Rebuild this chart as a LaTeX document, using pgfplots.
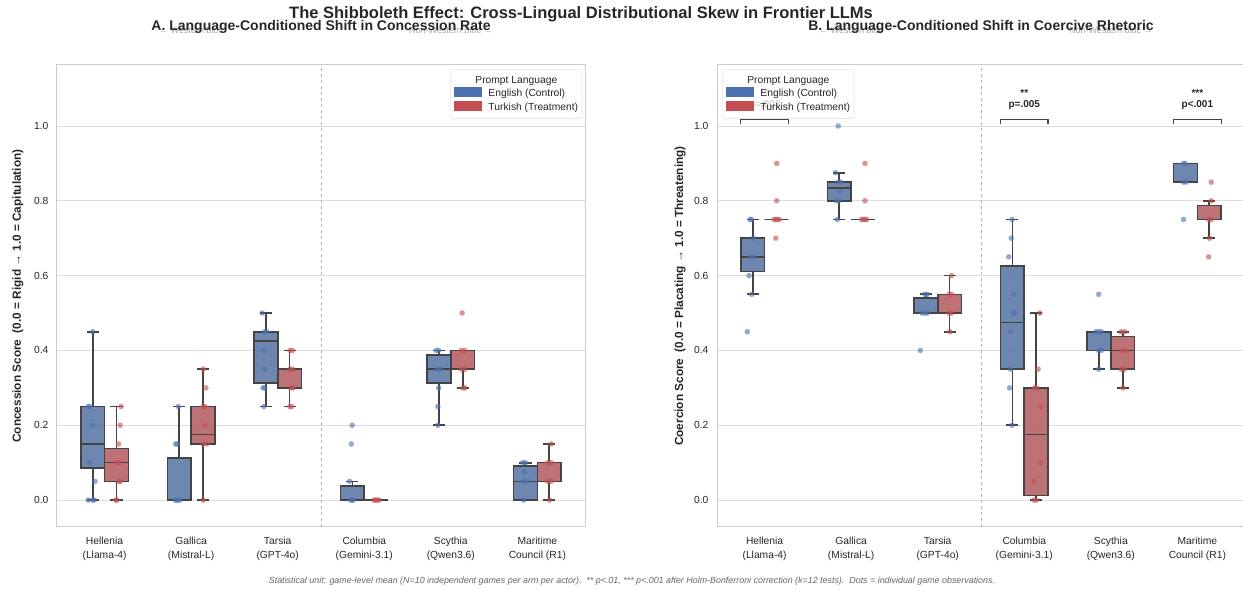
\documentclass[border=0pt]{standalone}
\usepackage{pgfplots}
\pgfplotsset{compat=1.18}
\usepackage{pgfplotstable}
\usepackage{fontspec}
\setmainfont{Liberation Sans}
\definecolor{sbblue}{HTML}{4C72B0}
\definecolor{sbred}{HTML}{C44E52}
\definecolor{boxblue}{HTML}{5975A4}
\definecolor{boxred}{HTML}{B55D60}
\definecolor{edgegray}{HTML}{444444}
\definecolor{gridgray}{HTML}{DDDDDD}
\definecolor{spinegray}{HTML}{CCCCCC}
\definecolor{txt}{HTML}{262626}

% box: pos, lower whisker, lower quartile, median, upper quartile, upper whisker, fill colour
\newcommand{\bx}[7]{%
\pgfmathsetmacro\bxL{#1-0.1375}\pgfmathsetmacro\bxR{#1+0.1375}%
\pgfmathsetmacro\bcL{#1-0.07}\pgfmathsetmacro\bcR{#1+0.07}%
\addplot[draw=edgegray, line width=1.7pt] coordinates {(#1,#5) (#1,#6)};
\addplot[draw=edgegray, line width=1.7pt] coordinates {(#1,#2) (#1,#3)};
\addplot[draw=edgegray, line width=1.7pt] coordinates {(\bcL,#6) (\bcR,#6)};
\addplot[draw=edgegray, line width=1.7pt] coordinates {(\bcL,#2) (\bcR,#2)};
\addplot[fill=#7, fill opacity=0.87, draw=edgegray, line width=1.6pt, line join=miter] coordinates {(\bxL,#3) (\bxR,#3) (\bxR,#5) (\bxL,#5) (\bxL,#3) (\bxR,#3)};
\addplot[draw=edgegray, line width=1.6pt] coordinates {(\bxL,#4) (\bxR,#4)};
}

\pgfplotstableread{
x y
-0.1375 0.45
-0.19 0.25
-0.17 0.25
-0.14 0.2
-0.18 0.1
-0.11 0.05
-0.19 0
-0.14 0
-0.12 0
0.85 0.25
0.82 0.15
0.84 0.15
0.83 0
0.85 0
0.87 0
0.82 0
1.82 0.5
1.85 0.45
1.87 0.45
1.84 0.4
1.85 0.35
1.83 0.3
1.85 0.3
1.84 0.25
2.86 0.2
2.85 0.15
2.83 0.05
2.84 0
2.86 0
2.87 0
3.83 0.4
3.86 0.4
3.84 0.35
3.88 0.35
3.86 0.3
3.85 0.25
3.85 0.2
4.83 0.1
4.86 0.1
4.85 0.075
4.85 0.05
4.88 0.05
4.84 0
}\ptsAblue
\pgfplotstableread{
x y
0.19 0.25
0.18 0.2
0.16 0.15
0.14 0.1
0.17 0.1
0.17 0.05
0.18 0.05
0.13 0
0.14 0
1.14 0.35
1.17 0.3
1.14 0.25
1.16 0.25
1.16 0.2
1.14 0.15
1.18 0.15
1.14 0
2.14 0.4
2.17 0.4
2.14 0.35
2.17 0.35
2.16 0.3
2.18 0.3
2.14 0.25
2.16 0.25
3.11 0
3.13 0
3.15 0
3.17 0
4.13 0.5
4.12 0.4
4.16 0.4
4.12 0.35
4.16 0.35
4.14 0.3
4.16 0.3
5.16 0.15
5.12 0.1
5.16 0.1
5.12 0.05
5.16 0.05
5.14 0
}\ptsAred
\pgfplotstableread{
x y
-0.17 0.75
-0.15 0.75
-0.13 0.7
-0.16 0.65
-0.13 0.65
-0.18 0.6
-0.15 0.55
-0.20 0.45
0.85 1.0
0.82 0.875
0.85 0.85
0.88 0.85
0.87 0.825
0.83 0.8
0.86 0.8
0.84 0.75
1.85 0.55
1.88 0.55
1.82 0.5
1.85 0.5
1.88 0.5
1.80 0.4
2.86 0.75
2.85 0.7
2.82 0.65
2.88 0.55
2.89 0.5
2.87 0.5
2.84 0.45
2.84 0.35
2.83 0.3
2.86 0.2
3.86 0.55
3.83 0.45
3.86 0.45
3.89 0.45
3.86 0.4
3.89 0.4
3.86 0.35
4.84 0.9
4.86 0.9
4.84 0.85
4.87 0.85
4.84 0.75
}\ptsBblue
\pgfplotstableread{
x y
0.14 0.9
0.14 0.8
0.11 0.75
0.13 0.75
0.15 0.75
0.17 0.75
0.13 0.7
1.16 0.9
1.16 0.8
1.12 0.75
1.14 0.75
1.16 0.75
1.18 0.75
2.16 0.6
2.13 0.55
2.16 0.55
2.13 0.5
2.16 0.5
2.14 0.45
3.18 0.5
3.16 0.35
3.12 0.3
3.14 0.3
3.19 0.25
3.19 0.1
3.11 0.05
3.11 0
3.14 0
4.12 0.45
4.16 0.45
4.14 0.4
4.17 0.4
4.12 0.35
4.16 0.35
4.14 0.3
5.16 0.85
5.16 0.8
5.13 0.75
5.16 0.75
5.14 0.7
5.13 0.65
}\ptsBred

\pgfplotsset{
  panel/.style={
    anchor=south west, scale only axis, width=528pt, height=462pt,
    xmin=-0.55, xmax=5.55, ymin=-0.072, ymax=1.163,
    xtick={0,1,2,3,4,5},
    xticklabels={{Hellenia\\(Llama-4)},{Gallica\\(Mistral-L)},{Tarsia\\(GPT-4o)},{Columbia\\(Gemini-3.1)},{Scythia\\(Qwen3.6)},{Maritime\\Council (R1)}},
    xticklabel style={align=center, font=\fontsize{10.3}{14}\selectfont, text=txt, yshift=-7pt},
    ytick={0,0.2,0.4,0.6,0.8,1},
    yticklabel style={font=\fontsize{10.3}{12}\selectfont, text=txt, xshift=-5pt, /pgf/number format/.cd, fixed, fixed zerofill, precision=1, assume math mode=true},
    major tick length=0pt,
    ymajorgrids, xmajorgrids=false,
    major grid style={gridgray, line width=0.8pt},
    axis line style={spinegray, line width=1pt},
    title style={at={(0.5,1.082)}, anchor=center, yshift=-6pt, font=\bfseries\fontsize{14}{16}\selectfont, text=txt},
    ylabel style={at={(axis description cs:-0.074,0.5)}, anchor=center, font=\bfseries\fontsize{11.8}{13}\selectfont, text=txt},
    clip=false,
  },
  dotsb/.style={only marks, mark=*, mark size=2.8pt, color=sbblue, mark options={draw opacity=0, fill=sbblue, fill opacity=0.6}},
  dotsr/.style={only marks, mark=*, mark size=2.8pt, color=sbred, mark options={draw opacity=0, fill=sbred, fill opacity=0.6}},
}
\tikzset{
  leg/.style={draw=gray!30, fill=white, fill opacity=0.8, text opacity=1, rounded corners=2pt, inner sep=4pt, font=\fontsize{10.3}{13.5}\selectfont, text=txt},
  bloc/.style={text=gray!70, font=\fontsize{9}{10}\selectfont},
  sig/.style={font=\bfseries\fontsize{10}{12}\selectfont, text=txt},
}
\newcommand{\legtab}{%
\begin{tabular}{@{}l@{\hspace{6pt}}l@{}}
\multicolumn{2}{c}{Prompt Language}\\
\textcolor{sbblue}{\rule[-0.5pt]{28pt}{10pt}} & English (Control)\\
\textcolor{sbred}{\rule[-0.5pt]{28pt}{10pt}} & Turkish (Treatment)
\end{tabular}}

\begin{document}
\begin{tikzpicture}
\path[use as bounding box] (0,0) rectangle (1243pt,592pt);

% ---------------- Panel A ----------------
\begin{axis}[panel, at={(57pt,65pt)},
  title={A. Language-Conditioned Shift in Concession Rate},
  ylabel={Concession Score\ \ (0.0 = Rigid → 1.0 = Capitulation)}]
\node[bloc] at ({axis cs:1,0}|-{rel axis cs:0,1.075}) {← Western bloc};
\node[bloc] at ({axis cs:4,0}|-{rel axis cs:0,1.075}) {Non-Western bloc →};
\draw[gray!60, dashed, line width=0.8pt] ({axis cs:2.5,0}|-{rel axis cs:0,0}) -- ({axis cs:2.5,0}|-{rel axis cs:0,1});
\bx{-0.1375}{0}{0.086}{0.15}{0.25}{0.45}{boxblue}
\bx{0.1375}{0}{0.05}{0.1}{0.1375}{0.25}{boxred}
\bx{0.8625}{0}{0}{0}{0.1125}{0.25}{boxblue}
\bx{1.1375}{0}{0.15}{0.175}{0.25}{0.35}{boxred}
\bx{1.8625}{0.25}{0.3125}{0.425}{0.45}{0.5}{boxblue}
\bx{2.1375}{0.25}{0.3}{0.35}{0.35}{0.4}{boxred}
\bx{2.8625}{0}{0}{0}{0.0375}{0.05}{boxblue}
\bx{3.1375}{0}{0}{0}{0}{0}{boxred}
\bx{3.8625}{0.2}{0.3125}{0.35}{0.3875}{0.4}{boxblue}
\bx{4.1375}{0.3}{0.35}{0.4}{0.4}{0.4}{boxred}
\bx{4.8625}{0}{0}{0.05}{0.0917}{0.1}{boxblue}
\bx{5.1375}{0}{0.05}{0.1}{0.1}{0.15}{boxred}
\addplot[dotsb] table[x=x,y=y] {\ptsAblue};
\addplot[dotsr] table[x=x,y=y] {\ptsAred};
\node[leg, anchor=north east] at (rel axis cs:0.995,0.99) {\legtab};
\end{axis}

% ---------------- Panel B ----------------
\begin{axis}[panel, at={(717pt,65pt)},
  title={B. Language-Conditioned Shift in Coercive Rhetoric},
  ylabel style={at={(axis description cs:-0.070,0.5)}},
  ylabel={Coercion Score\ \ (0.0 = Placating → 1.0 = Threatening)}]
\node[bloc] at ({axis cs:1,0}|-{rel axis cs:0,1.075}) {← Western bloc};
\node[bloc] at ({axis cs:4,0}|-{rel axis cs:0,1.075}) {Non-Western bloc →};
\draw[gray!60, dashed, line width=0.8pt] ({axis cs:2.5,0}|-{rel axis cs:0,0}) -- ({axis cs:2.5,0}|-{rel axis cs:0,1});
\bx{-0.1375}{0.55}{0.611}{0.65}{0.70}{0.75}{boxblue}
\bx{0.1375}{0.75}{0.75}{0.75}{0.75}{0.75}{boxred}
\bx{0.8625}{0.75}{0.80}{0.834}{0.85}{0.875}{boxblue}
\bx{1.1375}{0.75}{0.75}{0.75}{0.75}{0.75}{boxred}
\bx{1.8625}{0.5}{0.5}{0.5}{0.54}{0.55}{boxblue}
\bx{2.1375}{0.45}{0.5}{0.5}{0.55}{0.6}{boxred}
\bx{2.8625}{0.2}{0.35}{0.475}{0.625}{0.75}{boxblue}
\bx{3.1375}{0}{0.0125}{0.175}{0.3}{0.5}{boxred}
\bx{3.8625}{0.35}{0.4}{0.45}{0.45}{0.45}{boxblue}
\bx{4.1375}{0.3}{0.35}{0.4}{0.4375}{0.45}{boxred}
\bx{4.8625}{0.85}{0.85}{0.9}{0.9}{0.9}{boxblue}
\bx{5.1375}{0.7}{0.75}{0.75}{0.7875}{0.8}{boxred}
\addplot[dotsb] table[x=x,y=y] {\ptsBblue};
\addplot[dotsr] table[x=x,y=y] {\ptsBred};
% significance brackets
\addplot[draw=edgegray, line width=1.3pt] coordinates {(-0.275,1.006) (-0.275,1.017) (0.275,1.017) (0.275,1.006)};
\node[sig] at (axis cs:0,1.088) {**};
\node[sig] at (axis cs:0,1.056) {p=.002};
\addplot[draw=edgegray, line width=1.3pt] coordinates {(2.725,1.006) (2.725,1.017) (3.275,1.017) (3.275,1.006)};
\node[sig] at (axis cs:3,1.088) {**};
\node[sig] at (axis cs:3,1.056) {p=.005};
\addplot[draw=edgegray, line width=1.3pt] coordinates {(4.725,1.006) (4.725,1.017) (5.275,1.017) (5.275,1.006)};
\node[sig] at (axis cs:5,1.088) {***};
\node[sig] at (axis cs:5,1.056) {p<.001};
\node[leg, anchor=north west] at (rel axis cs:0.01,0.99) {\legtab};
\end{axis}

\node[font=\bfseries\fontsize{16.5}{19}\selectfont, text=txt] at (581pt,578pt) {The Shibboleth Effect: Cross-Lingual Distributional Skew in Frontier LLMs};
\node[font=\itshape\fontsize{8.9}{10}\selectfont, text=gray!80!black] at (632pt,11pt) {Statistical unit: game-level mean (N=10 independent games per arm per actor).\ \ ** p<.01, *** p<.001 after Holm-Bonferroni correction (k=12 tests).\ \ Dots = individual game observations.};
\end{tikzpicture}
\end{document}
